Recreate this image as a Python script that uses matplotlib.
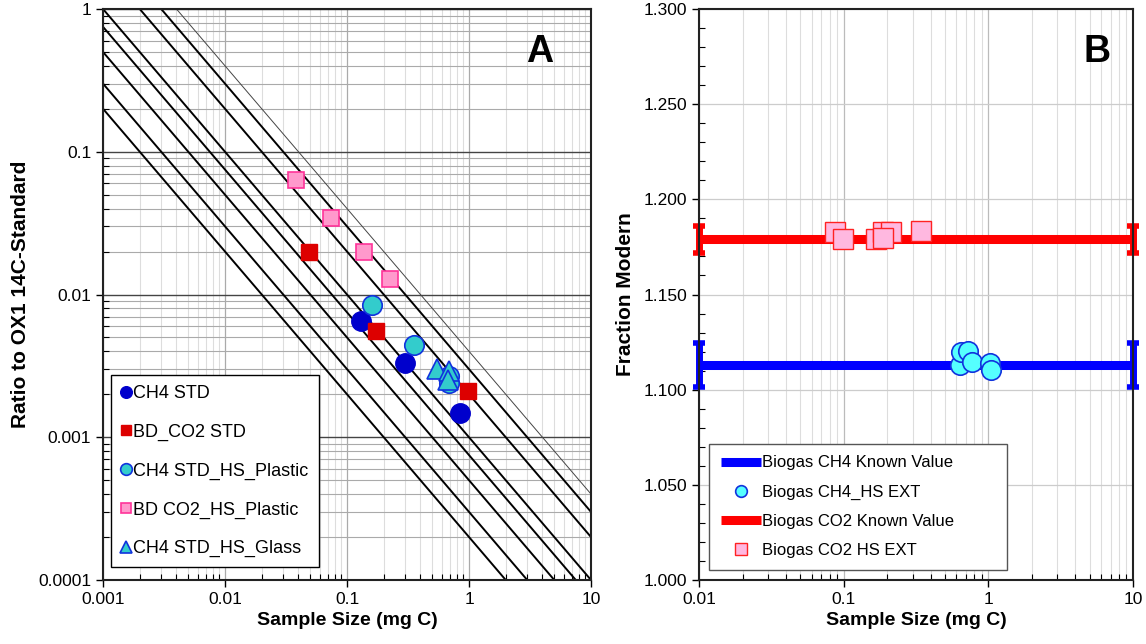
import numpy as np
import matplotlib
matplotlib.use("Agg")
import matplotlib.pyplot as plt
from matplotlib.ticker import LogLocator, MultipleLocator, FormatStrFormatter, FuncFormatter

plt.rcParams["font.family"] = ["Liberation Sans", "DejaVu Sans"]

# ============================================================
# DATA - PANEL A
# ============================================================

ch4_std_x = [0.130, 0.296, 0.848]
ch4_std_y = [0.0065, 0.00332, 0.00149]

bd_co2_std_x = [0.0485, 0.174, 0.975]
bd_co2_std_y = [0.0199, 0.00553, 0.00212]

ch4_hs_plastic_x = [0.160, 0.353, 0.69, 0.68]
ch4_hs_plastic_y = [0.0084, 0.00444, 0.0027, 0.0024]

bd_co2_hs_plastic_x = [0.0382, 0.0740, 0.137, 0.226]
bd_co2_hs_plastic_y = [0.0638, 0.0345, 0.0199, 0.0129]

ch4_hs_glass_x = [0.55, 0.69, 0.67]
ch4_hs_glass_y = [0.0030, 0.0029, 0.0025]

# constant-activity lines (ratio * mass = const)
iso_consts = [0.0002, 0.0003, 0.0005, 0.00075, 0.001, 0.002, 0.003]
iso_thin = 0.004

# ============================================================
# DATA - PANEL B
# ============================================================

ch4_known = 1.113
ch4_known_err = 0.0115
co2_known = 1.179
co2_known_err = 0.007
known_x = [0.01, 10]

ch4_ext_x = [0.634, 0.644, 0.723, 0.771, 1.033, 1.05]
ch4_ext_y = [1.113, 1.1196, 1.1202, 1.1144, 1.1141, 1.1105]

co2_ext_x = [0.0867, 0.0984, 0.166, 0.186, 0.213, 0.188, 0.344]
co2_ext_y = [1.1828, 1.1789, 1.1793, 1.1828, 1.1828, 1.1798, 1.1833]

# ============================================================
# FIGURE
# ============================================================

fig = plt.figure(figsize=(11.46, 6.44), dpi=100)

axA = fig.add_axes([0.0899, 0.0994, 0.4258, 0.8866])
axB = fig.add_axes([0.6100, 0.0994, 0.3787, 0.8866])

blue = "#0000cc"
red = "#dd0000"
cyan = "#33cccc"
pink = "#ff99cc"
pink_edge = "#ff3399"

# ------------------------------------------------------------
# PANEL A
# ------------------------------------------------------------

axA.set_xscale("log")
axA.set_yscale("log")
axA.set_xlim(0.001, 10)
axA.set_ylim(0.0001, 1)

axA.xaxis.set_minor_locator(LogLocator(base=10, subs=np.arange(2, 10)))
axA.yaxis.set_minor_locator(LogLocator(base=10, subs=np.arange(2, 10)))

axA.grid(which="minor", axis="x", color="#dddddd", lw=0.8, zorder=0)
axA.grid(which="major", axis="x", color="#aaaaaa", lw=0.9, zorder=0)
axA.grid(which="minor", axis="y", color="#aaaaaa", lw=0.8, zorder=0)
axA.grid(which="major", axis="y", color="#444444", lw=1.0, zorder=0)
axA.set_axisbelow(True)

xl = np.logspace(-4, 2, 50)

for c in iso_consts:
    axA.plot(xl, c / xl, color="black", lw=1.4, zorder=1)

axA.plot(xl, iso_thin / xl, color="#444444", lw=0.7, zorder=1)

axA.plot(ch4_std_x, ch4_std_y, "o", ms=14, mfc=blue, mec=blue,
         label="CH4 STD", zorder=3)
axA.plot(bd_co2_std_x, bd_co2_std_y, "s", ms=12, mfc=red, mec=red,
         label="BD_CO2 STD", zorder=3)
axA.plot(ch4_hs_plastic_x, ch4_hs_plastic_y, "o", ms=14, mfc=cyan,
         mec="#1133dd", mew=1.2, label="CH4 STD_HS_Plastic", zorder=3)
axA.plot(bd_co2_hs_plastic_x, bd_co2_hs_plastic_y, "s", ms=12, mfc=pink,
         mec=pink_edge, mew=1.2, label="BD CO2_HS_Plastic", zorder=3)
axA.plot(ch4_hs_glass_x, ch4_hs_glass_y, "^", ms=14, mfc=cyan,
         mec="#1133dd", mew=1.2, label="CH4 STD_HS_Glass", zorder=4)

def plain_fmt(v, pos):
    return f"{v:g}" if v >= 0.001 else f"{v:.4f}"

axA.xaxis.set_major_formatter(FuncFormatter(plain_fmt))
axA.yaxis.set_major_formatter(FuncFormatter(plain_fmt))

axA.set_xlabel("Sample Size (mg C)", fontsize=14, fontweight="bold", labelpad=4)
axA.set_ylabel("Ratio to OX1 14C-Standard", fontsize=15, fontweight="bold", labelpad=6)

axA.text(0.895, 0.925, "A", transform=axA.transAxes, fontsize=27,
         fontweight="bold", ha="center", va="center")

legA = axA.legend(loc="lower left", bbox_to_anchor=(0.016, 0.022),
                  fontsize=13, frameon=True, fancybox=False,
                  handlelength=0.6, handletextpad=0.1, labelspacing=1.2,
                  borderpad=0.55, markerscale=0.6, borderaxespad=0)
legA.get_frame().set_edgecolor("black")
legA.get_frame().set_linewidth(1.0)
legA.get_frame().set_alpha(1)

# ------------------------------------------------------------
# PANEL B
# ------------------------------------------------------------

axB.set_xscale("log")
axB.set_xlim(0.01, 10)
axB.set_ylim(1.0, 1.3)

axB.xaxis.set_minor_locator(LogLocator(base=10, subs=np.arange(2, 10)))
axB.yaxis.set_major_locator(MultipleLocator(0.05))
axB.yaxis.set_minor_locator(MultipleLocator(0.01))
axB.yaxis.set_major_formatter(FormatStrFormatter("%.3f"))
axB.xaxis.set_major_formatter(FuncFormatter(plain_fmt))

axB.grid(which="minor", axis="x", color="#dddddd", lw=0.8, zorder=0)
axB.grid(which="major", axis="x", color="#bbbbbb", lw=0.9, zorder=0)
axB.grid(which="major", axis="y", color="#cccccc", lw=0.9, zorder=0)
axB.set_axisbelow(True)

axB.plot(known_x, [ch4_known, ch4_known], color="#0000ff", lw=6.5,
         solid_capstyle="butt", label="Biogas CH4 Known Value",
         clip_on=False, zorder=2)
axB.errorbar(known_x, [ch4_known, ch4_known], yerr=ch4_known_err,
             fmt="none", ecolor="#0000ff", elinewidth=5, capsize=4,
             capthick=4, clip_on=False, zorder=2)

axB.plot(ch4_ext_x, ch4_ext_y, "o", ms=14, mfc="#55ffff", mec="#1133dd",
         mew=1.2, label="Biogas CH4_HS EXT", zorder=3)

axB.plot(known_x, [co2_known, co2_known], color="#ff0000", lw=6.5,
         solid_capstyle="butt", label="Biogas CO2 Known Value",
         clip_on=False, zorder=2)
axB.errorbar(known_x, [co2_known, co2_known], yerr=co2_known_err,
             fmt="none", ecolor="#ff0000", elinewidth=5, capsize=4,
             capthick=4, clip_on=False, zorder=2)

axB.plot(co2_ext_x, co2_ext_y, "s", ms=14, mfc="#ffb8e0", mec="#ff2222",
         mew=1.0, label="Biogas CO2 HS EXT", zorder=3)

axB.set_xlabel("Sample Size (mg C)", fontsize=14, fontweight="bold", labelpad=4)
axB.set_ylabel("Fraction Modern", fontsize=15, fontweight="bold", labelpad=6)

axB.text(0.917, 0.925, "B", transform=axB.transAxes, fontsize=27,
         fontweight="bold", ha="center", va="center")

legB = axB.legend(loc="lower left", bbox_to_anchor=(0.023, 0.018, 0.687, 0.2),
                  mode="expand", fontsize=12, frameon=True, fancybox=False,
                  handlelength=2.4, handletextpad=0.1, labelspacing=0.85,
                  borderpad=0.7, markerscale=0.6, borderaxespad=0)
legB.get_frame().set_edgecolor("#555555")
legB.get_frame().set_linewidth(1.0)
legB.get_frame().set_alpha(1)

# ------------------------------------------------------------
# TICKS / SPINES
# ------------------------------------------------------------

for ax in (axA, axB):
    ax.tick_params(which="major", direction="out", length=5, width=1,
                   labelsize=12.5, top=False, right=False)
    ax.tick_params(which="minor", direction="in", length=4, width=0.8,
                   top=False, right=False)
    for s in ax.spines.values():
        s.set_linewidth(1.5)
        s.set_color("#222222")

fig.savefig("out.png", dpi=100)
